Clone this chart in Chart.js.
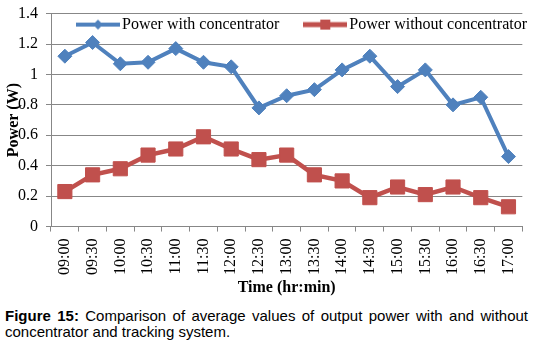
<!DOCTYPE html>
<html>
<head>
<meta charset="utf-8">
<script src="https://cdn.jsdelivr.net/npm/chart.js@4.4.1/dist/chart.umd.min.js"></script>
<style>
  body { margin: 0; background: #fff; width: 535px; height: 344px; overflow: hidden; position: relative; }
  #wrap { position: absolute; left: 0; top: -4px; width: 535px; height: 304px; }
  #cap { position: absolute; left: 5px; top: 308px; width: 523px; font-family: "Liberation Sans", Arial, sans-serif;
         font-size: 15px; line-height: 16px; text-align: justify; color: #000; }
</style>
</head>
<body>
<div id="wrap"><canvas id="powerchart"></canvas></div>
<div id="cap"><b>Figure 15:</b> Comparison of average values of output power with and without concentrator and tracking system.</div>
<script>
const times = ['09:00', '09:30', '10:00', '10:30', '11:00', '11:30', '12:00', '12:30', '13:00',
  '13:30', '14:00', '14:30', '15:00', '15:30', '16:00', '16:30', '17:00'];
const withConc = [1.12, 1.21, 1.07, 1.08, 1.17, 1.08, 1.05, 0.78, 0.86, 0.90, 1.03, 1.12, 0.92, 1.03, 0.80, 0.85, 0.46];
const withoutConc = [0.23, 0.34, 0.38, 0.47, 0.51, 0.59, 0.51, 0.44, 0.47, 0.34, 0.30, 0.19, 0.26, 0.21, 0.26, 0.19, 0.13];
const seriesNames = ['Power with concentrator', 'Power without concentrator'];

const blue = '#4f81bd';
const red = '#c0504d';
const gridGray = '#878787';
const serif = 'Liberation Serif';

// legend sample: short line with the marker in the middle
function legendSample(color, shape, lw) {
  const c = document.createElement('canvas');
  c.width = 44; c.height = 20;
  const ctx = c.getContext('2d');
  ctx.strokeStyle = color; ctx.fillStyle = color; ctx.lineWidth = lw;
  ctx.beginPath(); ctx.moveTo(0, 10); ctx.lineTo(44, 10); ctx.stroke();
  ctx.beginPath();
  if (shape === 'diamond') {
    ctx.moveTo(17, 10); ctx.lineTo(22, 5); ctx.lineTo(27, 10); ctx.lineTo(22, 15);
  } else {
    ctx.rect(17, 5, 10, 10);
  }
  ctx.closePath(); ctx.fill();
  return c;
}
const samples = [legendSample(blue, 'diamond', 4), legendSample(red, 'square', 5)];

// legend drawn inside the plot, along its top edge
const insideLegend = {
  id: 'insideLegend',
  afterDraw(chart) {
    const ctx = chart.ctx;
    const area = chart.chartArea;
    const y = area.top + 11;
    let x = area.left + 25;
    ctx.save();
    ctx.font = '16px "' + serif + '"';
    ctx.textBaseline = 'middle';
    ctx.fillStyle = '#000';
    chart.data.datasets.forEach(function (ds, i) {
      ctx.drawImage(samples[i], x, y - 10);
      x += 46;
      ctx.fillText(ds.label, x, y);
      x += ctx.measureText(ds.label).width + 24;
    });
    ctx.restore();
  }
};

const data = {
  labels: times,
  datasets: [
    { label: seriesNames[0], data: withConc, borderColor: blue, backgroundColor: blue, borderWidth: 4,
      pointStyle: 'rectRot', pointRadius: 7, pointBorderWidth: 1, pointBackgroundColor: blue, pointBorderColor: blue },
    { label: seriesNames[1], data: withoutConc, borderColor: red, backgroundColor: red, borderWidth: 4.5,
      pointStyle: 'rect', pointRadius: 10, pointBorderWidth: 1, pointBackgroundColor: red, pointBorderColor: red }
  ]
};

const config = {
  type: 'line',
  data: data,
  plugins: [insideLegend],
  options: {
    responsive: true,
    maintainAspectRatio: false,
    animation: false,
    layout: { padding: { top: 0, right: 5, bottom: 0, left: 4 } },
    scales: {
      x: {
        type: 'category',
        offset: true,
        grid: { offset: true, drawOnChartArea: false, color: gridGray, tickLength: 5 },
        border: { color: gridGray },
        ticks: { minRotation: 90, maxRotation: 90, padding: 7, color: '#000', font: { family: serif, size: 16 } },
        title: { display: true, text: 'Time (hr:min)', color: '#000', padding: { top: -2, bottom: 4 },
          font: { family: serif, size: 16, weight: 'bold', lineHeight: 1 } }
      },
      y: {
        min: 0,
        max: 1.4,
        ticks: { stepSize: 0.2, padding: 8, color: '#000', font: { family: serif, size: 16 },
          callback: function (v) { return String(Number(v.toFixed(1))); } },
        grid: { color: gridGray, tickLength: 5 },
        border: { color: gridGray },
        title: { display: true, text: 'Power (W)', color: '#000', padding: 0,
          font: { family: serif, size: 16, weight: 'bold' } },
        afterFit: function (scale) { scale.width = 47; }
      }
    },
    plugins: {
      tooltip: { enabled: false },
      legend: { display: false }
    }
  }
};

const myChart = new Chart(document.getElementById('powerchart'), config);
</script>
</body>
</html>
